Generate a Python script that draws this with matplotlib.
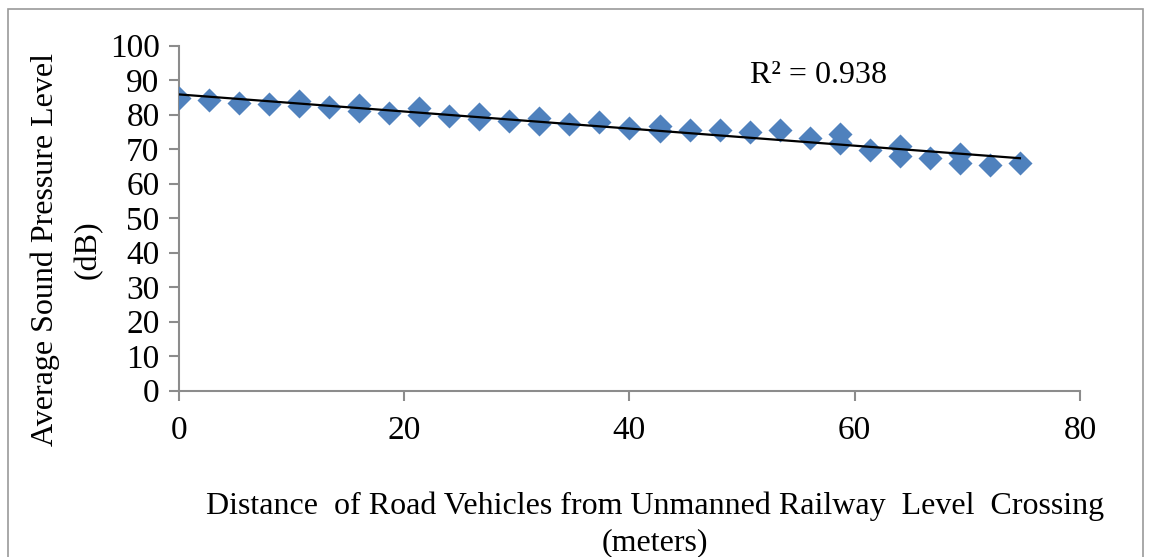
import numpy as np
import matplotlib
matplotlib.use("Agg")
import matplotlib.pyplot as plt
from matplotlib.patches import Rectangle

plt.rcParams['font.family'] = ['Liberation Serif', 'DejaVu Serif']

# distance of road vehicles from the crossing (m) and measured SPL (dB)
distance = [0, 2.67, 5.33, 8, 10.67, 10.67, 13.33, 16, 16, 18.67,
            21.33, 21.33, 24, 26.67, 26.67, 29.33, 32, 32, 34.67, 37.33,
            40, 42.67, 42.67, 45.33, 48, 50.67, 53.33, 56, 58.67, 58.67,
            61.33, 64, 64, 66.67, 69.33, 69.33, 72, 74.67]
spl = [84.8, 84.3, 83.5, 83.2, 84.0, 82.5, 82.3, 82.8, 81.0, 80.5,
       81.8, 79.8, 79.6, 80.2, 78.7, 78.3, 79.1, 77.4, 77.3, 77.8,
       76.1, 76.6, 75.3, 75.6, 75.7, 75.0, 75.6, 73.2, 74.5, 71.8,
       69.8, 70.8, 67.9, 67.4, 68.7, 66.0, 65.5, 66.0]
r2_label = "R\u00b2 = 0.938"

x = np.array(distance)
y = np.array(spl)
slope, intercept = np.polyfit(x, y, 1)
xfit = np.array([x.min(), x.max()])

fig = plt.figure(figsize=(11.51, 5.57), dpi=100)
ax = fig.add_axes([0.1555, 0.2986, 0.7828, 0.6194])

ax.scatter(x, y, marker='D', s=150, color='#4F81BD', linewidths=0, zorder=3)
ax.plot(xfit, slope * xfit + intercept, color='black', lw=1.6, zorder=4)

ax.set_xlim(0, 80)
ax.set_ylim(0, 100)
ax.set_xticks([0, 20, 40, 60, 80])
ax.set_yticks(range(0, 101, 10))

for s in ['top', 'right']:
    ax.spines[s].set_visible(False)
for s in ['left', 'bottom']:
    ax.spines[s].set_color('#8c8c8c')
    ax.spines[s].set_linewidth(1.5)
ax.tick_params(axis='both', direction='out', length=7, width=1.5,
               color='#8c8c8c', labelsize=24)
ax.tick_params(axis='x', pad=11)
ax.tick_params(axis='y', pad=7)

fig.text(0.6516, 0.865, r2_label, fontsize=23, ha='left', va='center')

fig.text(0.058, 0.552, "Average Sound Pressure Level\n(dB)", rotation=90,
         fontsize=23, ha='center', va='center', multialignment='center',
         linespacing=1.6)
fig.text(0.569, 0.059,
         "Distance  of Road Vehicles from Unmanned Railway  Level  Crossing\n(meters)",
         fontsize=23, ha='center', va='center', multialignment='center',
         linespacing=1.35)

# outer chart frame
fig.patches.append(Rectangle((8 / 1151, -0.1), 1135 / 1151, 1.1 - 9 / 557,
                             transform=fig.transFigure, fill=False,
                             edgecolor='#9a9a9a', lw=1.2))

fig.savefig("out.png", dpi=100)
